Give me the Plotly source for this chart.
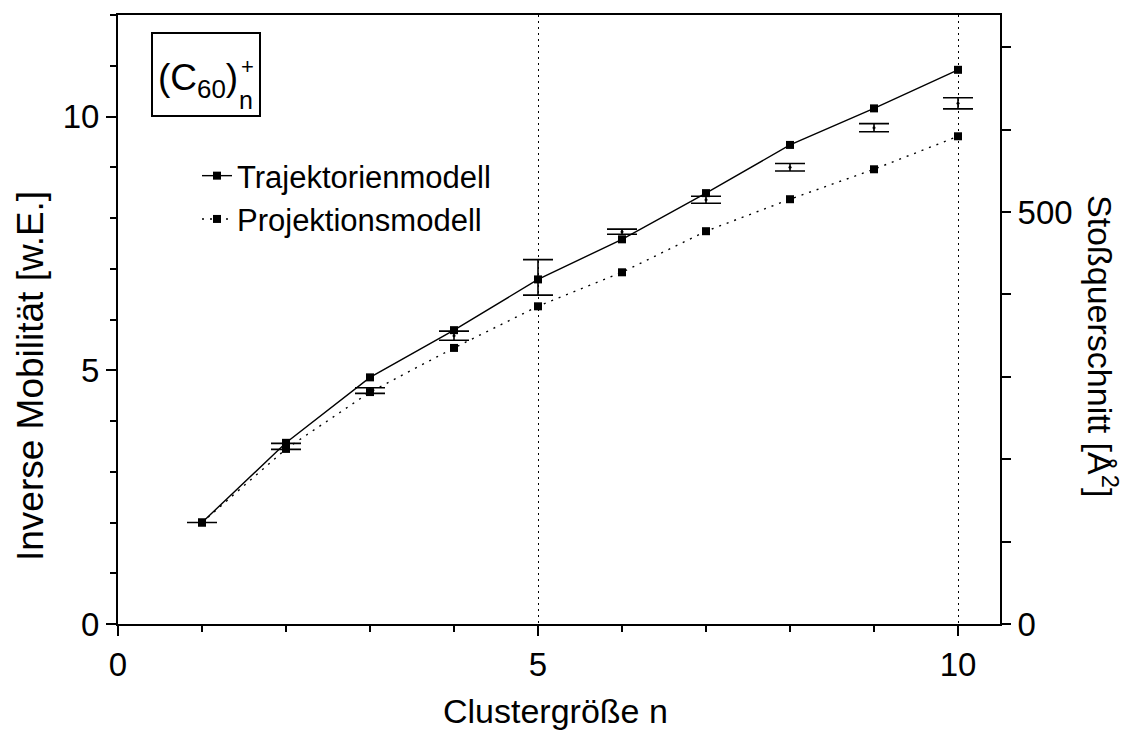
import plotly.graph_objects as go

# ---- data ----
n = [1, 2, 3, 4, 5, 6, 7, 8, 9, 10]
trajektorien = [2.0, 3.57, 4.86, 5.79, 6.79, 7.58, 8.49, 9.44, 10.16, 10.92]
projektion = [2.0, 3.45, 4.57, 5.44, 6.26, 6.93, 7.74, 8.37, 8.96, 9.61]
experiment = [2.0, 3.50, 4.60, 5.68, 6.83, 7.73, 8.36, 9.00, 9.78, 10.26]
experiment_err = [0.0, 0.06, 0.055, 0.09, 0.35, 0.05, 0.07, 0.075, 0.08, 0.11]

x_ticks = [0, 5, 10]
y_ticks = [0, 5, 10]
y2_ticks = [0, 500]

FONT = "Liberation Sans, Arial, sans-serif"
L, R, T, B = 118, 133, 15, 107
W, H = 1133, 731
PW, PH = W - L - R, H - T - B


def px(x):
    return (x - L) / PW


def py(y):
    return (H - B - y) / PH


fig = go.Figure()

fig.add_trace(go.Scatter(
    x=n, y=experiment, mode="markers", showlegend=False,
    marker=dict(symbol="circle", size=3, color="black"),
    error_y=dict(type="data", array=experiment_err, visible=True,
                 color="black", thickness=1.6, width=15),
))
fig.add_trace(go.Scatter(
    x=n, y=trajektorien, mode="lines+markers", name="Trajektorienmodell",
    line=dict(color="black", width=1.4),
    marker=dict(symbol="square", size=8, color="black"),
))
fig.add_trace(go.Scatter(
    x=n, y=projektion, mode="lines+markers", name="Projektionsmodell",
    line=dict(color="black", width=1.4, dash="2px,6px"),
    marker=dict(symbol="square", size=8, color="black"),
))
# invisible trace to activate right axis
fig.add_trace(go.Scatter(x=[None], y=[None], yaxis="y2", showlegend=False))

tickfont = dict(family=FONT, size=33, color="black")

fig.update_layout(
    width=W, height=H,
    margin=dict(l=L, r=R, t=T, b=B),
    paper_bgcolor="white", plot_bgcolor="white",
    font=dict(family=FONT, color="black"),
    xaxis=dict(
        range=[0, 10.5], tickvals=x_ticks, ticks="outside", ticklen=10,
        tickwidth=1.5, tickcolor="black", tickfont=tickfont,
        minor=dict(dtick=1, ticks="outside", ticklen=6, tickwidth=1.5, tickcolor="black", showgrid=False),
        showline=True, linewidth=2, linecolor="black", mirror=True,
        showgrid=True, gridcolor="black", gridwidth=1.2, griddash="2px,4px",
        zeroline=False,
    ),
    yaxis=dict(
        range=[0, 12], tickvals=y_ticks, ticks="outside", ticklen=10,
        tickwidth=1.5, tickcolor="black", tickfont=tickfont,
        minor=dict(dtick=1, ticks="outside", ticklen=6, tickwidth=1.5, tickcolor="black", showgrid=False),
        showline=True, linewidth=2, linecolor="black", mirror=False,
        showgrid=False, zeroline=False,
    ),
    yaxis2=dict(
        overlaying="y", side="right", range=[0, 739], tickvals=y2_ticks,
        ticks="outside", ticklen=9, tickwidth=1.5, tickcolor="black", tickfont=tickfont,
        minor=dict(dtick=100, ticks="outside", ticklen=9, tickwidth=1.5, tickcolor="black", showgrid=False),
        showline=True, linewidth=2, linecolor="black",
        showgrid=False, zeroline=False,
    ),
    legend=dict(
        x=px(197), y=py(149), xanchor="left", yanchor="top",
        bgcolor="rgba(0,0,0,0)", font=dict(family=FONT, size=31, color="black"),
        itemwidth=30, tracegroupgap=0,
    ),
    showlegend=True,
)

annotations = [
    dict(text="Inverse Mobilität [w.E.]", x=px(30), y=py(376), textangle=-90,
         font=dict(size=37)),
    dict(text="Stoßquerschnitt [Å<sup>2</sup>]", x=px(1103), y=py(346), textangle=90,
         font=dict(size=34)),
    dict(text="Clustergröße n", x=px(555), y=py(711), font=dict(size=34)),
    dict(text="(C<sub>60</sub>)", x=px(156), y=py(80), xanchor="left", font=dict(size=37)),
    dict(text="+", x=px(247), y=py(66), font=dict(size=22)),
    dict(text="n", x=px(246), y=py(100), font=dict(size=25)),
]
for a in annotations:
    a.update(xref="paper", yref="paper", showarrow=False, yanchor="middle")
    a.setdefault("xanchor", "center")
    a["font"].update(family=FONT, color="black")
    fig.add_annotation(**a)

fig.add_shape(type="rect", xref="paper", yref="paper",
              x0=px(152), x1=px(260), y0=py(116), y1=py(33),
              line=dict(color="black", width=2))

fig.write_html("out.html")
